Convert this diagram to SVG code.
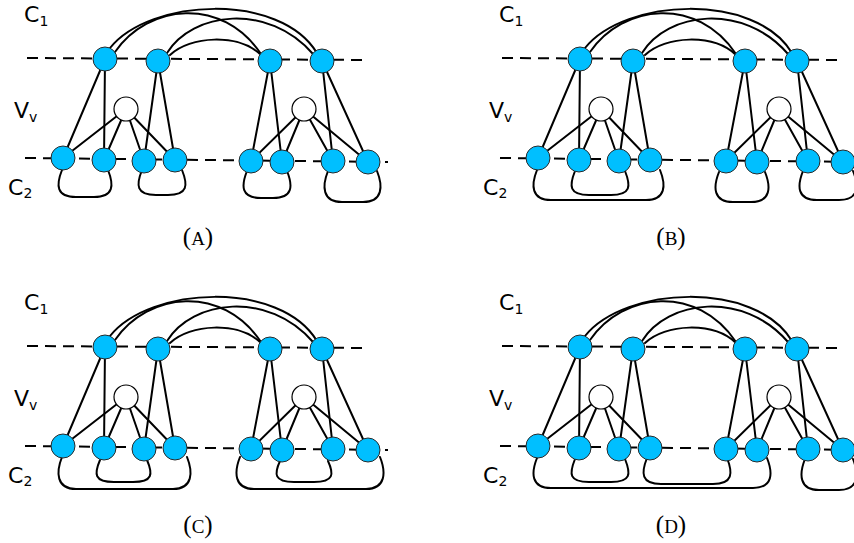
<svg xmlns="http://www.w3.org/2000/svg" width="854" height="543" viewBox="0 0 854 543">
<style>
.e{stroke:#000;stroke-width:2;fill:none;stroke-linecap:round}
.d{stroke:#000;stroke-width:2;stroke-dasharray:11 7;fill:none}
.n{fill:#00BFFF;stroke:#2a2a2a;stroke-width:1}
.w{fill:#fff;stroke:#000;stroke-width:1.2}
.lbl{font-family:"DejaVu Sans",sans-serif;font-size:22px;fill:#000}
.sub{font-size:14px}
.cap{font-family:"Liberation Serif",serif;font-size:25px;fill:#000;text-anchor:middle}
.sc{font-size:19px}
</style>
<defs>
<g id="common-edges">
<line class="d" x1="27" y1="58" x2="367" y2="60"/>
<line class="d" x1="25" y1="158" x2="388" y2="162"/>
<line class="e" x1="105" y1="59" x2="63" y2="158"/>
<line class="e" x1="105" y1="59" x2="104" y2="160"/>
<line class="e" x1="158" y1="61" x2="144" y2="161"/>
<line class="e" x1="158" y1="61" x2="175" y2="160"/>
<line class="e" x1="270" y1="61" x2="251" y2="161"/>
<line class="e" x1="270" y1="61" x2="282" y2="162"/>
<line class="e" x1="322" y1="61" x2="333" y2="161"/>
<line class="e" x1="322" y1="61" x2="368" y2="162"/>
<line class="e" x1="126" y1="109" x2="63" y2="158"/>
<line class="e" x1="126" y1="109" x2="104" y2="160"/>
<line class="e" x1="126" y1="109" x2="144" y2="161"/>
<line class="e" x1="126" y1="109" x2="175" y2="160"/>
<line class="e" x1="304" y1="109" x2="251" y2="161"/>
<line class="e" x1="304" y1="109" x2="282" y2="162"/>
<line class="e" x1="304" y1="109" x2="333" y2="161"/>
<line class="e" x1="304" y1="109" x2="368" y2="162"/>
<path class="e" d="M110 48 C150 -2 280 -8 317 53"/>
<path class="e" d="M115 52 C148 4 222 -4 261 54"/>
<path class="e" d="M167 53 C192 12 268 2 313 54"/>
<path class="e" d="M170 55 C190 36 238 33 261 55"/>
</g>
</defs>

<!-- Panel A -->
<g id="panel-a">
<g id="a-connectors">
<use href="#common-edges"/>
<path class="e" d="M62 170 C56 185 56 197 76 197 L94 197 C114 197 114 185 108 170"/>
<path class="e" d="M142 170 C136 185 136 195 156 195 L168 195 C188 195 188 185 182 170"/>
<path class="e" d="M247 171 C241 186 241 198 261 198 L273 198 C293 198 293 186 287 171"/>
<path class="e" d="M328 171 C322 186 322 202 342 202 L363 202 C383 202 383 186 377 171"/>
</g>
<g id="a-t1"><circle class="n" cx="105" cy="59" r="12"/></g>
<g id="a-t2"><circle class="n" cx="158" cy="61" r="12"/></g>
<g id="a-t3"><circle class="n" cx="270" cy="61" r="12"/></g>
<g id="a-t4"><circle class="n" cx="322" cy="61" r="12"/></g>
<g id="a-w1"><circle class="w" cx="126" cy="109" r="12"/></g>
<g id="a-w2"><circle class="w" cx="304" cy="109" r="12"/></g>
<g id="a-b1"><circle class="n" cx="63" cy="158" r="12"/></g>
<g id="a-b2"><circle class="n" cx="104" cy="160" r="12"/></g>
<g id="a-b3"><circle class="n" cx="144" cy="161" r="12"/></g>
<g id="a-b4"><circle class="n" cx="175" cy="160" r="12"/></g>
<g id="a-b5"><circle class="n" cx="251" cy="161" r="12"/></g>
<g id="a-b6"><circle class="n" cx="282" cy="162" r="12"/></g>
<g id="a-b7"><circle class="n" cx="333" cy="161" r="12"/></g>
<g id="a-b8"><circle class="n" cx="368" cy="162" r="12"/></g>
<text class="lbl" x="24" y="22">C<tspan class="sub" dy="4">1</tspan></text>
<text class="lbl" x="14" y="118">V<tspan class="sub" dy="4">v</tspan></text>
<text class="lbl" x="8" y="195">C<tspan class="sub" dy="3">2</tspan></text>
<text class="cap" x="198" y="245">(<tspan class="sc">A</tspan>)</text>
</g>

<!-- Panel B -->
<g id="panel-b" transform="translate(475,0)">
<g id="b-connectors">
<use href="#common-edges"/>
<path class="e" d="M62 170 C56 185 56 200 76 200 L171 200 C191 200 191 185 185 170"/>
<path class="e" d="M100 171 C94 186 94 195 114 195 L136 195 C156 195 156 186 150 171"/>
<path class="e" d="M244 172 C238 187 238 202 258 202 L276 202 C296 202 296 187 290 172"/>
<path class="e" d="M328 171 C322 186 322 200 342 200 L364 200 C384 200 384 186 378 171"/>
</g>
<g id="b-t1"><circle class="n" cx="105" cy="59" r="12"/></g>
<g id="b-t2"><circle class="n" cx="158" cy="61" r="12"/></g>
<g id="b-t3"><circle class="n" cx="270" cy="61" r="12"/></g>
<g id="b-t4"><circle class="n" cx="322" cy="61" r="12"/></g>
<g id="b-w1"><circle class="w" cx="126" cy="109" r="12"/></g>
<g id="b-w2"><circle class="w" cx="304" cy="109" r="12"/></g>
<g id="b-b1"><circle class="n" cx="63" cy="158" r="12"/></g>
<g id="b-b2"><circle class="n" cx="104" cy="160" r="12"/></g>
<g id="b-b3"><circle class="n" cx="144" cy="161" r="12"/></g>
<g id="b-b4"><circle class="n" cx="175" cy="160" r="12"/></g>
<g id="b-b5"><circle class="n" cx="251" cy="161" r="12"/></g>
<g id="b-b6"><circle class="n" cx="282" cy="162" r="12"/></g>
<g id="b-b7"><circle class="n" cx="333" cy="161" r="12"/></g>
<g id="b-b8"><circle class="n" cx="368" cy="162" r="12"/></g>
<text class="lbl" x="24" y="22">C<tspan class="sub" dy="4">1</tspan></text>
<text class="lbl" x="14" y="118">V<tspan class="sub" dy="4">v</tspan></text>
<text class="lbl" x="8" y="195">C<tspan class="sub" dy="3">2</tspan></text>
<text class="cap" x="196" y="245">(<tspan class="sc">B</tspan>)</text>
</g>

<!-- Panel C -->
<g id="panel-c" transform="translate(0,288)">
<g id="c-connectors">
<use href="#common-edges"/>
<path class="e" d="M62 169 C56 184 56 201 76 201 L173 201 C193 201 193 184 187 169"/>
<path class="e" d="M100 172 C94 186 94 194 114 194 L133 194 C153 194 153 186 147 172"/>
<path class="e" d="M240 169 C234 184 234 201 254 201 L366 201 C386 201 386 184 380 169"/>
<path class="e" d="M280 173 C274 186 274 194 294 194 L314 194 C334 194 334 186 328 173"/>
</g>
<g id="c-t1"><circle class="n" cx="105" cy="59" r="12"/></g>
<g id="c-t2"><circle class="n" cx="158" cy="61" r="12"/></g>
<g id="c-t3"><circle class="n" cx="270" cy="61" r="12"/></g>
<g id="c-t4"><circle class="n" cx="322" cy="61" r="12"/></g>
<g id="c-w1"><circle class="w" cx="126" cy="109" r="12"/></g>
<g id="c-w2"><circle class="w" cx="304" cy="109" r="12"/></g>
<g id="c-b1"><circle class="n" cx="63" cy="158" r="12"/></g>
<g id="c-b2"><circle class="n" cx="104" cy="160" r="12"/></g>
<g id="c-b3"><circle class="n" cx="144" cy="161" r="12"/></g>
<g id="c-b4"><circle class="n" cx="175" cy="160" r="12"/></g>
<g id="c-b5"><circle class="n" cx="251" cy="161" r="12"/></g>
<g id="c-b6"><circle class="n" cx="282" cy="162" r="12"/></g>
<g id="c-b7"><circle class="n" cx="333" cy="161" r="12"/></g>
<g id="c-b8"><circle class="n" cx="368" cy="162" r="12"/></g>
<text class="lbl" x="24" y="22">C<tspan class="sub" dy="4">1</tspan></text>
<text class="lbl" x="14" y="118">V<tspan class="sub" dy="4">v</tspan></text>
<text class="lbl" x="8" y="195">C<tspan class="sub" dy="3">2</tspan></text>
<text class="cap" x="198" y="245">(<tspan class="sc">C</tspan>)</text>
</g>

<!-- Panel D -->
<g id="panel-d" transform="translate(475,288)">
<g id="d-connectors">
<use href="#common-edges"/>
<path class="e" d="M62 170 C56 185 56 200 76 200 L278 200 C298 200 298 185 292 170"/>
<path class="e" d="M100 171 C94 186 94 194 114 194 L136 194 C156 194 156 186 150 171"/>
<path class="e" d="M172 170 C166 185 166 196 186 196 L238 196 C258 196 258 185 252 170"/>
<path class="e" d="M330 171 C324 186 324 202 344 202 L364 202 C384 202 384 186 378 171"/>
</g>
<g id="d-t1"><circle class="n" cx="105" cy="59" r="12"/></g>
<g id="d-t2"><circle class="n" cx="158" cy="61" r="12"/></g>
<g id="d-t3"><circle class="n" cx="270" cy="61" r="12"/></g>
<g id="d-t4"><circle class="n" cx="322" cy="61" r="12"/></g>
<g id="d-w1"><circle class="w" cx="126" cy="109" r="12"/></g>
<g id="d-w2"><circle class="w" cx="304" cy="109" r="12"/></g>
<g id="d-b1"><circle class="n" cx="63" cy="158" r="12"/></g>
<g id="d-b2"><circle class="n" cx="104" cy="160" r="12"/></g>
<g id="d-b3"><circle class="n" cx="144" cy="161" r="12"/></g>
<g id="d-b4"><circle class="n" cx="175" cy="160" r="12"/></g>
<g id="d-b5"><circle class="n" cx="251" cy="161" r="12"/></g>
<g id="d-b6"><circle class="n" cx="282" cy="162" r="12"/></g>
<g id="d-b7"><circle class="n" cx="333" cy="161" r="12"/></g>
<g id="d-b8"><circle class="n" cx="368" cy="162" r="12"/></g>
<text class="lbl" x="24" y="22">C<tspan class="sub" dy="4">1</tspan></text>
<text class="lbl" x="14" y="118">V<tspan class="sub" dy="4">v</tspan></text>
<text class="lbl" x="8" y="195">C<tspan class="sub" dy="3">2</tspan></text>
<text class="cap" x="196" y="245">(<tspan class="sc">D</tspan>)</text>
</g>
</svg>
